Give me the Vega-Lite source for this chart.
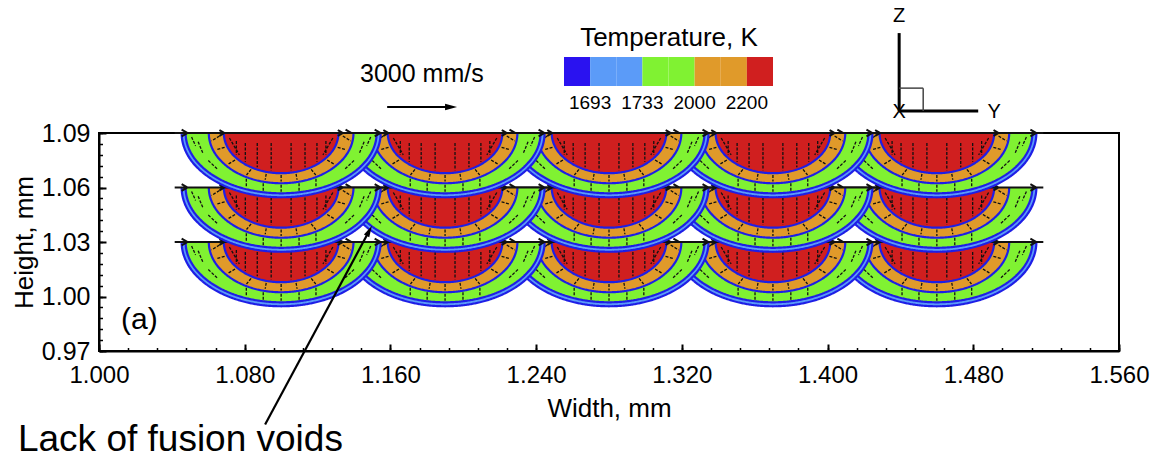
{
  "$schema": "https://vega.github.io/schema/vega-lite/v6.json",
  "width": 1020,
  "height": 218,
  "autosize": "none",
  "padding": {"left": 99, "top": 133, "right": 39, "bottom": 108},
  "background": "white",
  "config": {
    "font": "Liberation Sans",
    "view": {"stroke": "black", "strokeWidth": 2},
    "axis": {"grid": false, "domainColor": "black", "tickColor": "black", "labelColor": "black", "titleColor": "black", "titleFontWeight": "normal"}
  },
  "resolve": {"axis": {"x": "independent", "y": "independent"}},
  "layer": [
    {
      "data": {"values": [
        {"x": 1.46, "top": 1.03, "band": ["rim", "green", "orange", "red", "vec", "surf"], "level": [1.5, 3.5, 5.5, 7.5, 7.5, 7.5]},
        {"x": 1.37, "top": 1.03, "band": ["rim", "green", "orange", "red", "vec", "surf"], "level": [1.5, 3.5, 5.5, 7.5, 7.5, 7.5]},
        {"x": 1.28, "top": 1.03, "band": ["rim", "green", "orange", "red", "vec", "surf"], "level": [1.5, 3.5, 5.5, 7.5, 7.5, 7.5]},
        {"x": 1.19, "top": 1.03, "band": ["rim", "green", "orange", "red", "vec", "surf"], "level": [1.5, 3.5, 5.5, 7.5, 7.5, 7.5]},
        {"x": 1.10, "top": 1.03, "band": ["rim", "green", "orange", "red", "vec", "surf"], "level": [1.5, 3.5, 5.5, 7.5, 7.5, 7.5]},
        {"x": 1.46, "top": 1.06, "band": ["rim", "green", "orange", "red", "vec", "surf"], "level": [1.5, 3.5, 5.5, 7.5, 7.5, 7.5]},
        {"x": 1.37, "top": 1.06, "band": ["rim", "green", "orange", "red", "vec", "surf"], "level": [1.5, 3.5, 5.5, 7.5, 7.5, 7.5]},
        {"x": 1.28, "top": 1.06, "band": ["rim", "green", "orange", "red", "vec", "surf"], "level": [1.5, 3.5, 5.5, 7.5, 7.5, 7.5]},
        {"x": 1.19, "top": 1.06, "band": ["rim", "green", "orange", "red", "vec", "surf"], "level": [1.5, 3.5, 5.5, 7.5, 7.5, 7.5]},
        {"x": 1.10, "top": 1.06, "band": ["rim", "green", "orange", "red", "vec", "surf"], "level": [1.5, 3.5, 5.5, 7.5, 7.5, 7.5]},
        {"x": 1.46, "top": 1.09, "band": ["rim", "green", "orange", "red", "vec", "surf"], "level": [1.5, 3.5, 5.5, 7.5, 7.5, 7.5]},
        {"x": 1.37, "top": 1.09, "band": ["rim", "green", "orange", "red", "vec", "surf"], "level": [1.5, 3.5, 5.5, 7.5, 7.5, 7.5]},
        {"x": 1.28, "top": 1.09, "band": ["rim", "green", "orange", "red", "vec", "surf"], "level": [1.5, 3.5, 5.5, 7.5, 7.5, 7.5]},
        {"x": 1.19, "top": 1.09, "band": ["rim", "green", "orange", "red", "vec", "surf"], "level": [1.5, 3.5, 5.5, 7.5, 7.5, 7.5]},
        {"x": 1.10, "top": 1.09, "band": ["rim", "green", "orange", "red", "vec", "surf"], "level": [1.5, 3.5, 5.5, 7.5, 7.5, 7.5]}
      ]},
      "transform": [{"flatten": ["band", "level"]}],
      "mark": {"type": "point", "filled": true, "opacity": 1, "size": 39601},
      "encoding": {
        "x": {"field": "x", "type": "quantitative", "scale": {"domain": [1, 1.56], "nice": false, "zero": false},
          "axis": {"orient": "bottom", "title": "Width, mm", "values": [1, 1.08, 1.16, 1.24, 1.32, 1.4, 1.48, 1.56], "format": ".3f", "labelFontSize": 24, "titleFontSize": 26, "tickSize": -7, "tickWidth": 2, "domainWidth": 2, "labelPadding": 19, "titlePadding": 8, "labelFlush": false, "labelOverlap": false}},
        "y": {"field": "top", "type": "quantitative", "scale": {"domain": [0.97, 1.09], "nice": false, "zero": false},
          "axis": {"orient": "left", "title": "Height, mm", "values": [0.97, 1.0, 1.03, 1.06, 1.09], "format": ".2f", "labelFontSize": 25, "titleFontSize": 26, "tickSize": -7, "tickWidth": 2, "domainWidth": 2, "labelPadding": 16, "titlePadding": 4, "labelFlush": false, "labelOverlap": false}},
        "shape": {"field": "band", "type": "nominal", "legend": null,
          "scale": {"domain": ["rim", "green", "orange", "red", "vec", "surf"], "range": [
            "M-1,0C-1,0.357,-0.552,0.646,0,0.646C0.552,0.646,1,0.357,1,0",
            "M-0.96,0C-0.96,0.335,-0.53,0.606,0,0.606C0.53,0.606,0.96,0.335,0.96,0",
            "M-0.727,0C-0.727,0.279,-0.402,0.505,0,0.505C0.402,0.505,0.727,0.279,0.727,0",
            "M-0.576,0C-0.576,0.223,-0.318,0.404,0,0.404C0.318,0.404,0.576,0.223,0.576,0",
            "M-0.45,0.08L-0.45,0.22M-0.36,0.1L-0.36,0.29M-0.24,0.1L-0.24,0.345M-0.1,0.1L-0.1,0.375M0.1,0.1L0.1,0.375M0.24,0.1L0.24,0.345M0.36,0.1L0.36,0.29M0.45,0.08L0.45,0.22M-0.52,0.05L-0.42,0.22M0.52,0.05L0.42,0.22M0.568,0.145L0.654,0.167M0.463,0.272L0.533,0.313M0.302,0.366L0.348,0.422M0.15,0.41L0.16,0.47M0,0.423L0,0.487M-0.15,0.41L-0.16,0.47M-0.568,0.145L-0.654,0.167M-0.463,0.272L-0.533,0.313M-0.302,0.366L-0.348,0.422M-0.62,0.03L-0.7,0.08M0.62,0.03L0.7,0.08M0,0.52L0,0.59M0.18,0.505L0.18,0.58M-0.18,0.505L-0.18,0.58M0.35,0.46L0.35,0.55M-0.35,0.46L-0.35,0.55M0.834,0.088L0.788,0.2M0.732,0.277L0.644,0.359M-0.834,0.088L-0.788,0.2M-0.732,0.277L-0.644,0.359M-0.9,0.04L-0.86,0.13M0.9,0.04L0.86,0.13",
            "M-1.07,0L1.07,0M-1,-0.035L-0.94,0M-1,0.035L-0.94,0M0.94,-0.035L1,0M0.94,0.035L1,0M-0.62,-0.03L-0.57,0M-0.62,0.03L-0.57,0M0.57,-0.03L0.62,0M0.57,0.03L0.62,0"
          ]}},
        "stroke": {"field": "band", "type": "nominal", "legend": null,
          "scale": {"domain": ["rim", "green", "orange", "red", "vec", "surf"], "range": ["#1e1ee6", "#1e1ee6", "#1e1ee6", "#1e1ee6", "#111111", "#111111"]}},
        "strokeWidth": {"field": "band", "type": "nominal", "legend": null,
          "scale": {"type": "ordinal", "domain": ["rim", "green", "orange", "red", "vec", "surf"], "range": [2.2, 2.2, 2.2, 2.2, 1.3, 2]}},
        "strokeDash": {"field": "band", "type": "nominal", "legend": null,
          "scale": {"domain": ["rim", "green", "orange", "red", "vec", "surf"], "range": [[1, 0], [1, 0], [1, 0], [1, 0], [3, 1.5], [1, 0]]}},
        "color": {"field": "level", "type": "quantitative",
          "scale": {"type": "threshold", "domain": [1, 2, 3, 4, 5, 6, 7], "range": ["#2a12f0", "#5b9bf8", "#5b9bf8", "#80f232", "#80f232", "#e09a2a", "#e09a2a", "#d01f1f"]},
          "legend": {"type": "gradient", "orient": "none", "direction": "horizontal", "legendX": 465, "legendY": -108,
            "title": "Temperature, K", "titleFontSize": 26, "titleFontWeight": "normal", "titleColor": "black", "titleAnchor": "middle", "titlePadding": 6, "titleLimit": 400,
            "gradientLength": 209, "gradientThickness": 29, "labelFontSize": 19, "labelColor": "black", "labelOverlap": false, "labelOffset": 8,
            "labelExpr": "datum.value == 1 ? '1693' : datum.value == 3 ? '1733' : datum.value == 5 ? '2000' : datum.value == 7 ? '2200' : ''"}}
      }
    },
    {
      "data": {"values": [
        {"x": 1.4393, "y": 1.1021, "x2": 1.4393, "y2": 1.145},
        {"x": 1.4393, "y": 1.1021, "x2": 1.4827, "y2": 1.1021}
      ]},
      "mark": {"type": "rule", "color": "black", "strokeWidth": 3},
      "encoding": {
        "x": {"field": "x", "type": "quantitative", "scale": {"domain": [1, 1.56], "nice": false, "zero": false},
          "axis": {"orient": "bottom", "title": null, "labels": false, "domain": false, "values": [1.0, 1.016, 1.032, 1.048, 1.064, 1.08, 1.096, 1.112, 1.128, 1.144, 1.16, 1.176, 1.192, 1.208, 1.224, 1.24, 1.256, 1.272, 1.288, 1.304, 1.32, 1.336, 1.352, 1.368, 1.384, 1.4, 1.416, 1.432, 1.448, 1.464, 1.48, 1.496, 1.512, 1.528, 1.544, 1.56], "tickSize": -3.5, "tickWidth": 1.5}},
        "x2": {"field": "x2"},
        "y": {"field": "y", "type": "quantitative", "scale": {"domain": [0.97, 1.09], "nice": false, "zero": false},
          "axis": {"orient": "left", "title": null, "labels": false, "domain": false, "values": [0.97, 0.976, 0.982, 0.988, 0.994, 1.0, 1.006, 1.012, 1.018, 1.024, 1.03, 1.036, 1.042, 1.048, 1.054, 1.06, 1.066, 1.072, 1.078, 1.084, 1.09], "tickSize": -3.5, "tickWidth": 1.5}},
        "y2": {"field": "y2"}
      }
    },
    {
      "data": {"values": [
        {"x": 1.4393, "y": 1.1147, "x2": 1.4525, "y2": 1.1147},
        {"x": 1.4525, "y": 1.1147, "x2": 1.4525, "y2": 1.1021}
      ]},
      "mark": {"type": "rule", "color": "#444444", "strokeWidth": 1.5},
      "encoding": {
        "x": {"field": "x", "type": "quantitative", "scale": {"domain": [1, 1.56], "nice": false, "zero": false}, "axis": null},
        "x2": {"field": "x2"},
        "y": {"field": "y", "type": "quantitative", "scale": {"domain": [0.97, 1.09], "nice": false, "zero": false}, "axis": null},
        "y2": {"field": "y2"}
      }
    },
    {
      "data": {"values": [
        {"x": 1.1582, "y": 1.1043, "x2": 1.1933, "y2": 1.1043},
        {"x": 1.0912, "y": 0.9295, "x2": 1.1483, "y2": 1.036}
      ]},
      "mark": {"type": "rule", "color": "black", "strokeWidth": 2.2},
      "encoding": {
        "x": {"field": "x", "type": "quantitative", "scale": {"domain": [1, 1.56], "nice": false, "zero": false}, "axis": null},
        "x2": {"field": "x2"},
        "y": {"field": "y", "type": "quantitative", "scale": {"domain": [0.97, 1.09], "nice": false, "zero": false}, "axis": null},
        "y2": {"field": "y2"}
      }
    },
    {
      "data": {"values": [{"x": 1.1933, "y": 1.1043}]},
      "mark": {"type": "point", "shape": "M-1,-0.55L1,0L-1,0.55Z", "size": 144, "filled": true, "color": "black", "opacity": 1},
      "encoding": {
        "x": {"field": "x", "type": "quantitative", "scale": {"domain": [1, 1.56], "nice": false, "zero": false}, "axis": null},
        "y": {"field": "y", "type": "quantitative", "scale": {"domain": [0.97, 1.09], "nice": false, "zero": false}, "axis": null}
      }
    },
    {
      "data": {"values": [{"x": 1.1483, "y": 1.036}]},
      "mark": {"type": "point", "shape": "M0,-1L0.5,0.9L-0.5,0.9Z", "size": 144, "angle": 28, "filled": true, "color": "black", "opacity": 1},
      "encoding": {
        "x": {"field": "x", "type": "quantitative", "scale": {"domain": [1, 1.56], "nice": false, "zero": false}, "axis": null},
        "y": {"field": "y", "type": "quantitative", "scale": {"domain": [0.97, 1.09], "nice": false, "zero": false}, "axis": null}
      }
    },
    {
      "data": {"values": [{"x": 1.1433, "y": 1.118, "t": "3000 mm/s"}]},
      "mark": {"type": "text", "fontSize": 25, "align": "left", "baseline": "alphabetic", "color": "black"},
      "encoding": {
        "x": {"field": "x", "type": "quantitative", "scale": {"domain": [1, 1.56], "nice": false, "zero": false}, "axis": null},
        "y": {"field": "y", "type": "quantitative", "scale": {"domain": [0.97, 1.09], "nice": false, "zero": false}, "axis": null},
        "text": {"field": "t"}
      }
    },
    {
      "data": {"values": [{"x": 0.9555, "y": 0.9152, "t": "Lack of fusion voids"}]},
      "mark": {"type": "text", "fontSize": 37, "align": "left", "baseline": "alphabetic", "color": "black"},
      "encoding": {
        "x": {"field": "x", "type": "quantitative", "scale": {"domain": [1, 1.56], "nice": false, "zero": false}, "axis": null},
        "y": {"field": "y", "type": "quantitative", "scale": {"domain": [0.97, 1.09], "nice": false, "zero": false}, "axis": null},
        "text": {"field": "t"}
      }
    },
    {
      "data": {"values": [{"x": 1.0121, "y": 0.9822, "t": "(a)"}]},
      "mark": {"type": "text", "fontSize": 30, "align": "left", "baseline": "alphabetic", "color": "black"},
      "encoding": {
        "x": {"field": "x", "type": "quantitative", "scale": {"domain": [1, 1.56], "nice": false, "zero": false}, "axis": null},
        "y": {"field": "y", "type": "quantitative", "scale": {"domain": [0.97, 1.09], "nice": false, "zero": false}, "axis": null},
        "text": {"field": "t"}
      }
    },
    {
      "data": {"values": [
        {"x": 1.4393, "y": 1.151, "t": "Z"},
        {"x": 1.4915, "y": 1.0982, "t": "Y"},
        {"x": 1.4393, "y": 1.0982, "t": "X"}
      ]},
      "mark": {"type": "text", "fontSize": 20, "align": "center", "baseline": "alphabetic", "color": "black"},
      "encoding": {
        "x": {"field": "x", "type": "quantitative", "scale": {"domain": [1, 1.56], "nice": false, "zero": false}, "axis": null},
        "y": {"field": "y", "type": "quantitative", "scale": {"domain": [0.97, 1.09], "nice": false, "zero": false}, "axis": null},
        "text": {"field": "t"}
      }
    }
  ]
}
